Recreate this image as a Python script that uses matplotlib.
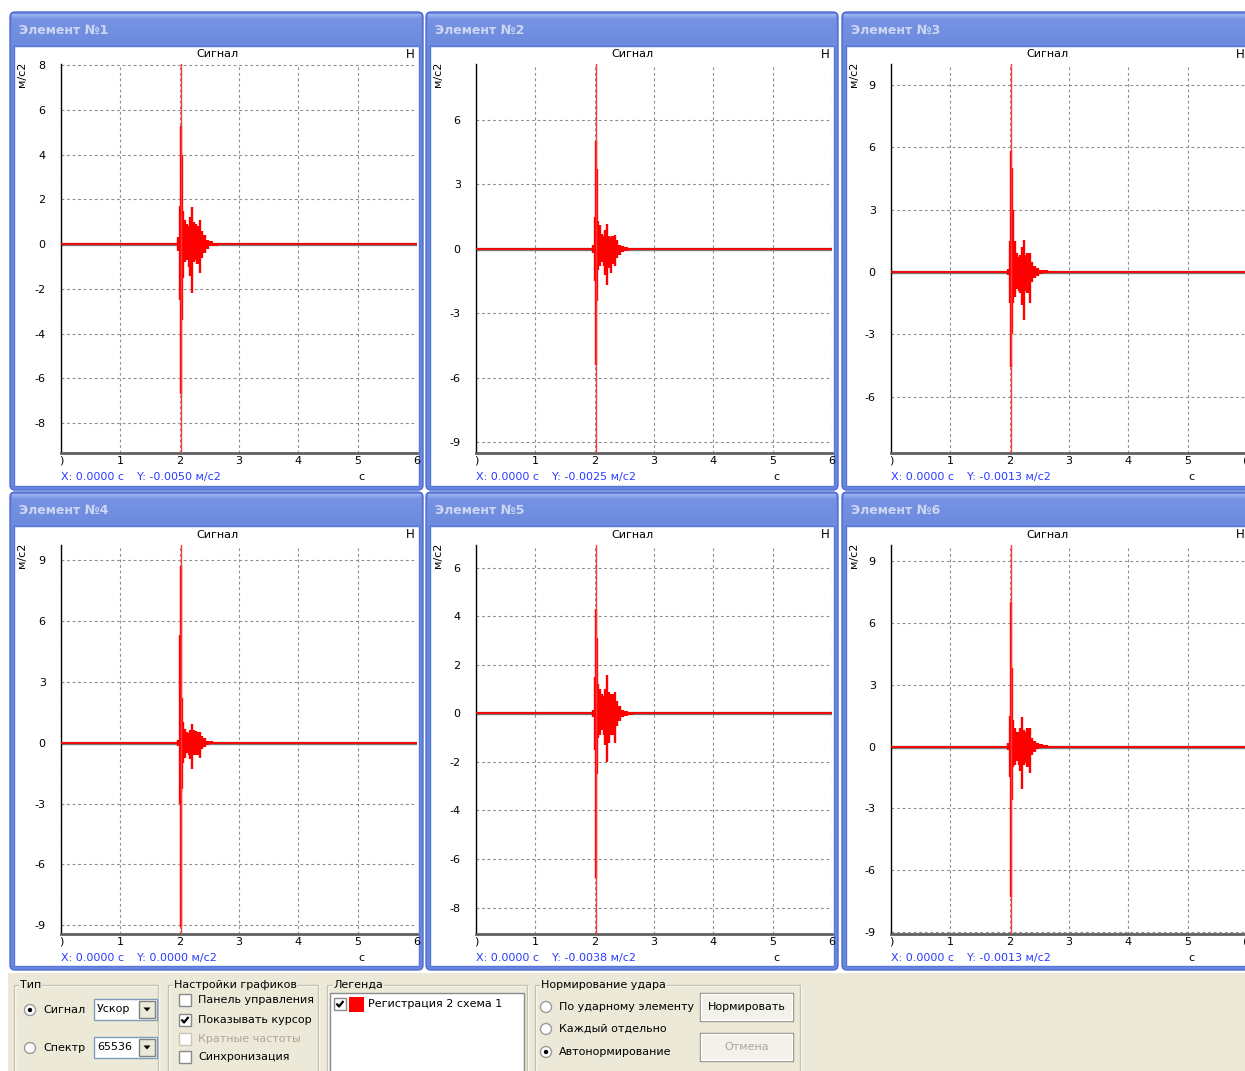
import matplotlib
matplotlib.use("Agg")
import matplotlib.pyplot as plt
import numpy as np
from matplotlib.patches import Rectangle, FancyBboxPatch, Circle, Polygon

# ---------------- data ----------------
panel_titles = ["Элемент №1", "Элемент №2", "Элемент №3",
                "Элемент №4", "Элемент №5", "Элемент №6"]
cursor_y_values = ["-0.0050", "-0.0025", "-0.0013", "0.0000", "-0.0038", "-0.0013"]
x_ticks = [0, 1, 2, 3, 4, 5, 6]
x_tick_labels = [")", "1", "2", "3", "4", "5", "6"]
x_tick_labels_edge = [")", "1", "2", "3", "4", "5", "("]   # right column, clipped at the window edge
y_ticks = [
    [-8, -6, -4, -2, 0, 2, 4, 6, 8],
    [-9, -6, -3, 0, 3, 6],
    [-6, -3, 0, 3, 6, 9],
    [-9, -6, -3, 0, 3, 6, 9],
    [-8, -6, -4, -2, 0, 2, 4, 6],
    [-9, -6, -3, 0, 3, 6, 9],
]
y_limits = [(-9.33, 8.05), (-9.49, 8.6), (-8.7, 10.0),
            (-9.42, 9.72), (-9.09, 6.94), (-9.1, 9.78)]

signal_span = [0.0, 6.0]          # time range of the baseline record, s
cursor_t = 2.03                   # cursor position, s

burst_t = [1.98, 2.00, 2.02, 2.04, 2.06, 2.09, 2.12, 2.15, 2.18, 2.21,
           2.24, 2.27, 2.30, 2.34, 2.38, 2.42, 2.47, 2.53, 2.60, 2.70]
burst_hi_1 = [0.3, 1.7, 5.3, 4.0, 1.5, 1.1, 0.9, 0.8, 1.2, 1.65, 1.0, 0.9, 0.8, 1.1, 0.6, 0.4, 0.2, 0.12, 0.06, 0.04]
burst_lo_1 = [-0.3, -2.5, -6.7, -3.4, -1.5, -0.8, -0.7, -1.0, -1.4, -2.2, -0.8, -0.7, -0.9, -1.3, -0.6, -0.4, -0.2, -0.1, -0.06, -0.03]
burst_hi_2 = [0.2, 1.5, 5.0, 3.7, 1.3, 1.1, 0.7, 0.6, 0.9, 1.15, 0.6, 0.55, 0.6, 0.65, 0.4, 0.2, 0.12, 0.08, 0.05, 0.03]
burst_lo_2 = [-0.2, -1.5, -5.4, -2.4, -1.0, -0.8, -0.6, -0.8, -1.2, -1.7, -0.9, -1.1, -0.7, -0.8, -0.4, -0.3, -0.15, -0.08, -0.05, -0.03]
burst_hi_3 = [0.15, 1.5, 5.8, 5.0, 3.0, 1.5, 0.9, 0.7, 0.8, 1.2, 1.54, 0.8, 0.9, 0.9, 0.5, 0.3, 0.2, 0.12, 0.08, 0.05]
burst_lo_3 = [-0.15, -1.5, -4.55, -3.0, -1.5, -1.2, -0.8, -0.9, -1.0, -1.6, -2.3, -0.9, -1.0, -1.5, -0.5, -0.3, -0.2, -0.1, -0.06, -0.04]
burst_hi_4 = [0.15, 5.3, 8.7, 2.2, 1.0, 0.65, 0.5, 0.45, 0.6, 0.9, 0.6, 0.55, 0.5, 0.5, 0.3, 0.2, 0.1, 0.06, 0.04, 0.02]
burst_lo_4 = [-0.15, -3.0, -9.1, -2.3, -1.0, -0.75, -0.5, -0.6, -0.8, -1.3, -0.6, -0.6, -0.6, -0.75, -0.3, -0.2, -0.1, -0.06, -0.04, -0.02]
burst_hi_5 = [0.15, 1.5, 4.3, 3.1, 1.2, 1.0, 0.8, 0.7, 1.0, 1.6, 0.9, 0.8, 0.8, 0.9, 0.5, 0.3, 0.15, 0.1, 0.06, 0.04]
burst_lo_5 = [-0.15, -1.5, -6.8, -2.5, -1.0, -0.9, -0.7, -0.9, -1.3, -2.0, -1.2, -0.9, -0.9, -1.2, -0.5, -0.3, -0.15, -0.1, -0.05, -0.03]
burst_hi_6 = [0.15, 1.5, 7.0, 3.8, 1.3, 0.9, 0.7, 0.7, 0.9, 1.45, 0.8, 0.7, 0.9, 0.9, 0.4, 0.25, 0.15, 0.1, 0.06, 0.03]
burst_lo_6 = [-0.15, -1.5, -7.3, -2.6, -1.0, -0.9, -0.7, -0.9, -1.2, -2.05, -0.9, -0.8, -1.0, -1.3, -0.4, -0.25, -0.12, -0.08, -0.05, -0.03]
burst_hi = [burst_hi_1, burst_hi_2, burst_hi_3, burst_hi_4, burst_hi_5, burst_hi_6]
burst_lo = [burst_lo_1, burst_lo_2, burst_lo_3, burst_lo_4, burst_lo_5, burst_lo_6]

legend_entry = "Регистрация 2 схема 1"

# ---------------- figure ----------------
W, H = 1245, 1071
FONT = "DejaVu Sans"
plt.rcParams['font.family'] = [FONT]
fig = plt.figure(figsize=(W / 100, H / 100), dpi=100)
fig.patch.set_facecolor('white')
bg = fig.add_axes([0, 0, 1, 1])
bg.set_xlim(0, W)
bg.set_ylim(H, 0)
bg.axis('off')

col_frames = [(10, 423), (426, 838), (842, 1256)]
row_frames = [(12, 490), (492, 970)]
ax_left = [61, 476, 891]
ax_w = 356
ax_top = [64, 545]
ax_h = 389

def hex2rgb(h):
    h = h.lstrip('#')
    return np.array([int(h[i:i + 2], 16) / 255 for i in (0, 2, 4)])

grad_top = hex2rgb('#9cb2ee')
grad_mid = hex2rgb('#7893e3')
grad_bot = hex2rgb('#6c8ade')
g = np.linspace(0, 1, 32)[:, None]
grad = np.where(g < 0.15, grad_top + (grad_mid - grad_top) * (g / 0.15),
                grad_mid + (grad_bot - grad_mid) * ((g - 0.15) / 0.85))
grad_img = np.repeat(grad[:, None, :], 2, axis=1).reshape(32, 2, 3)

for i in range(6):
    r, c = divmod(i, 3)
    x0, x1 = col_frames[c]
    y0, y1 = row_frames[r]
    frame = FancyBboxPatch((x0, y0), x1 - x0, y1 - y0,
                           boxstyle="round,pad=0,rounding_size=5",
                           facecolor='#6a88de', edgecolor='#4d6cd2', lw=1, zorder=1)
    bg.add_patch(frame)
    bg.imshow(grad_img, extent=[x0 + 2, x1 - 2, y0 + 33, y0 + 2], aspect='auto',
              interpolation='bilinear', zorder=2)
    bg.add_patch(Rectangle((x0 + 4, y0 + 34), x1 - x0 - 8, y1 - y0 - 38,
                           facecolor='white', edgecolor='#5877d8', lw=1, zorder=3))
    bg.text(x0 + 9, y0 + 19, panel_titles[i], color='#cdd7f3', fontsize=9,
            fontweight='bold', va='center', ha='left', zorder=4)
    al = ax_left[c]
    at = ax_top[r]
    bg.text(al + 156, at - 10, "Сигнал", fontsize=8, ha='center', va='center', zorder=4)
    bg.text(al + 349, at - 10, "Н", fontsize=8.5, ha='center', va='center', zorder=4)
    bg.text(x0 + 12, at + 10, "м/с2", fontsize=8, rotation=90, ha='center',
            va='center', zorder=4)
    bg.text(al, at + ax_h + 24, "X: 0.0000 с", color='#2a3cff', fontsize=8,
            ha='left', va='center', zorder=4)
    bg.text(al + 76, at + ax_h + 24, "Y: %s м/с2" % cursor_y_values[i], color='#2a3cff',
            fontsize=8, ha='left', va='center', zorder=4)
    bg.text(al + 300, at + ax_h + 24, "с", fontsize=8, ha='center', va='center', zorder=4)

bg.set_xlim(0, W)
bg.set_ylim(H, 0)

for i in range(6):
    r, c = divmod(i, 3)
    al = ax_left[c]
    at = ax_top[r]
    ax = fig.add_axes([al / W, 1 - (at + ax_h) / H, ax_w / W, ax_h / H])
    ax.set_facecolor('white')
    ax.set_xlim(0, 6)
    ax.set_ylim(*y_limits[i])
    ax.set_xticks(x_ticks)
    labels = x_tick_labels_edge if c == 2 else x_tick_labels
    ax.set_xticklabels(labels)
    if c == 2:
        ax.get_xticklabels()[-1].set_horizontalalignment('right')
    ax.set_yticks(y_ticks[i])
    ax.set_yticklabels([str(v) for v in y_ticks[i]])
    ax.grid(True, color='#8e8e8e', linestyle=(0, (2.5, 2.5)), lw=0.8)
    ax.set_axisbelow(True)
    ax.tick_params(axis='both', length=0, labelsize=8)
    ax.tick_params(axis='y', pad=11)
    ax.tick_params(axis='x', pad=2)
    for s in ('top', 'right'):
        ax.spines[s].set_visible(False)
    ax.spines['left'].set_color('black')
    ax.spines['left'].set_linewidth(1)
    ax.spines['bottom'].set_color('#606060')
    ax.spines['bottom'].set_linewidth(2)
    ax.axhline(0, color='#7a7a7a', lw=2.4, zorder=2)
    ax.plot(signal_span, [0, 0], color='#ff0000', lw=1.3, zorder=3)
    ax.fill_between(burst_t, burst_lo[i], burst_hi[i], step='mid',
                    color='#ff0000', lw=0, zorder=4)
    ax.vlines(burst_t, burst_lo[i], burst_hi[i], color='#ff0000', lw=1.7, zorder=4)
    ax.axvline(cursor_t, color='#ff3a3a', lw=1, zorder=5)

# ---------------- control panel ----------------
BEIGE = '#ece9d8'
bg.add_patch(Rectangle((8, 973), W - 8, H - 973, facecolor=BEIGE, edgecolor='none', zorder=1))

def groupbox(x0, y0, x1, y1, label):
    bg.add_patch(Rectangle((x0 + 1, y0 + 1), x1 - x0, y1 - y0, facecolor='none',
                           edgecolor='white', lw=1, zorder=2))
    bg.add_patch(Rectangle((x0, y0), x1 - x0, y1 - y0, facecolor='none',
                           edgecolor='#c5c2b2', lw=1, zorder=2))
    bg.text(x0 + 6, y0, label, fontsize=8, ha='left', va='center', zorder=4,
            bbox=dict(facecolor=BEIGE, edgecolor='none', pad=0.5))

def radio(x, y, selected, text, color='black'):
    bg.add_patch(Circle((x, y), 5.5, facecolor='white', edgecolor='#9a9a9a', lw=1, zorder=3))
    if selected:
        bg.add_patch(Circle((x, y), 2.2, facecolor='black', edgecolor='none', zorder=4))
    bg.text(x + 13, y, text, fontsize=8, ha='left', va='center', color=color, zorder=4)

def checkbox(x, y, checked, text, color='black', boxcolor='#8a8a8a'):
    bg.add_patch(Rectangle((x - 6, y - 6), 12, 12, facecolor='white', edgecolor=boxcolor,
                           lw=1, zorder=3))
    if checked:
        bg.plot([x - 3.5, x - 1, x + 3.5], [y - 0.5, y + 2.5, y - 3], color='black',
                lw=1.6, zorder=4, solid_capstyle='butt')
    if text:
        bg.text(x + 13, y, text, fontsize=8, ha='left', va='center', color=color, zorder=4)

def combo(x0, y0, x1, y1, text):
    bg.add_patch(Rectangle((x0, y0), x1 - x0, y1 - y0, facecolor='white',
                           edgecolor='#7f9db9', lw=1, zorder=3))
    bg.text(x0 + 3, (y0 + y1) / 2, text, fontsize=8, ha='left', va='center', zorder=4)
    bx0 = x1 - 18
    bg.add_patch(Rectangle((bx0, y0 + 2), 16, y1 - y0 - 4, facecolor='#ece9d8',
                           edgecolor='#808080', lw=1, zorder=4))
    cy = (y0 + y1) / 2
    bg.add_patch(Polygon([[bx0 + 4.5, cy - 2], [bx0 + 11.5, cy - 2], [bx0 + 8, cy + 2]],
                         closed=True, facecolor='black', edgecolor='none', zorder=5))

def button(x0, y0, x1, y1, text, enabled=True):
    bg.add_patch(Rectangle((x0, y0), x1 - x0, y1 - y0, facecolor='#f2f1ea',
                           edgecolor='#8d8b80', lw=1, zorder=3))
    bg.add_patch(Rectangle((x0 + 1, y0 + 1), x1 - x0 - 2, y1 - y0 - 2, facecolor='none',
                           edgecolor='white', lw=1, zorder=3))
    bg.text((x0 + x1) / 2, (y0 + y1) / 2, text, fontsize=8, ha='center', va='center',
            color='black' if enabled else '#aca899', zorder=4)

groupbox(14, 985, 158, 1075, "Тип")
radio(30, 1010, True, "Сигнал")
combo(94, 999, 157, 1020, "Ускор")
radio(30, 1048, False, "Спектр")
combo(94, 1037, 157, 1058, "65536")

groupbox(168, 985, 318, 1075, "Настройки графиков")
checkbox(185, 1000, False, "Панель управления")
checkbox(185, 1020, True, "Показывать курсор")
checkbox(185, 1039, False, "Кратные частоты", color='#aca899', boxcolor='#c8c5b5')
checkbox(185, 1057, False, "Синхронизация")

groupbox(327, 985, 527, 1075, "Легенда")
bg.add_patch(Rectangle((330, 993), 194, 80, facecolor='white', edgecolor='#8a8a8a',
                       lw=1, zorder=3))
checkbox(340, 1004, True, None)
bg.add_patch(Rectangle((349, 997), 15, 15, facecolor='#ff0000', edgecolor='none', zorder=4))
bg.text(368, 1004, legend_entry, fontsize=8, ha='left', va='center', zorder=4)

groupbox(535, 985, 800, 1075, "Нормирование удара")
radio(546, 1007, False, "По ударному элементу")
radio(546, 1029, False, "Каждый отдельно")
radio(546, 1052, True, "Автонормирование")
button(700, 993, 793, 1021, "Нормировать", True)
button(700, 1033, 793, 1061, "Отмена", False)

bg.set_xlim(0, W)
bg.set_ylim(H, 0)

fig.savefig("out.png", dpi=100, facecolor=fig.get_facecolor())
